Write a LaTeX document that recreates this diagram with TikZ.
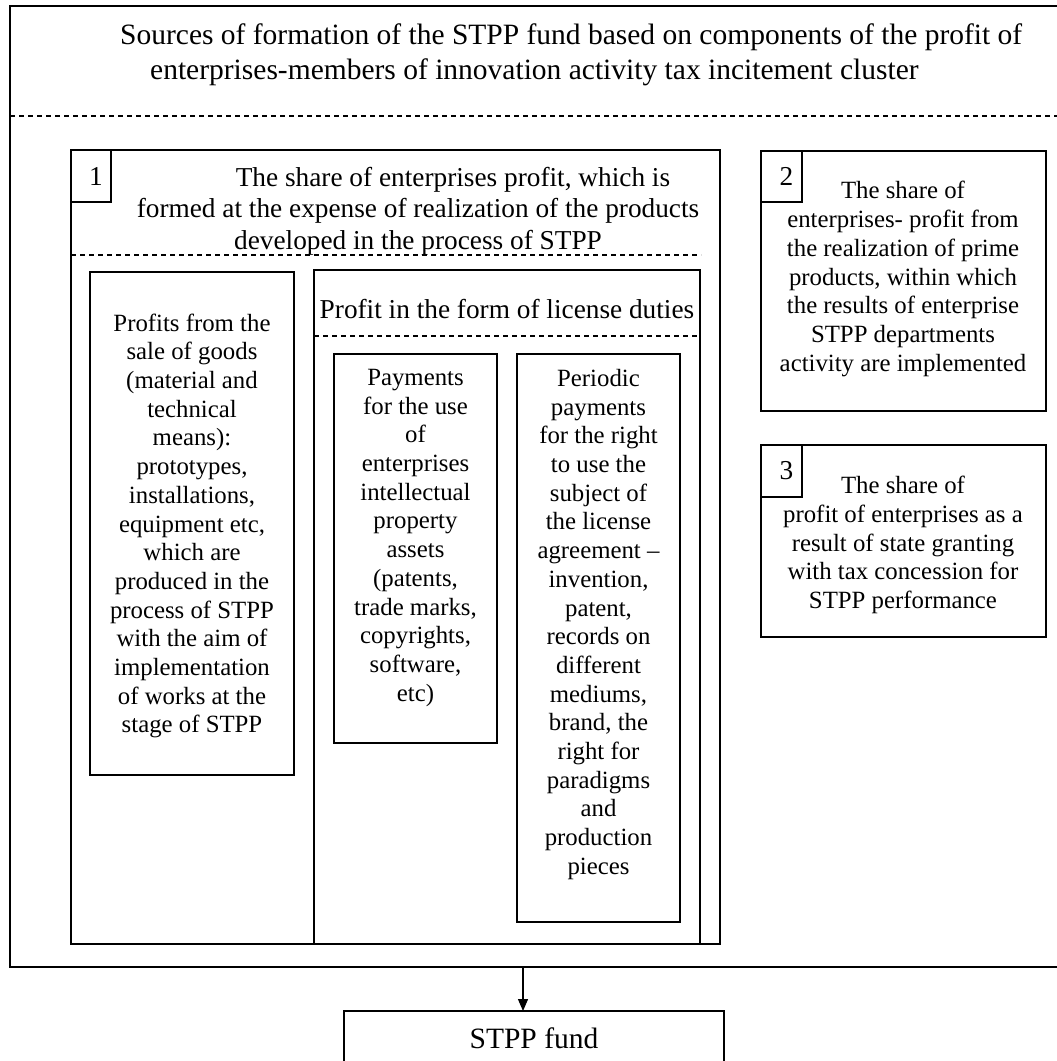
\documentclass[tikz,border=0pt]{standalone}
\usepackage{fontspec}
\setmainfont{Liberation Serif}
\usetikzlibrary{arrows.meta}
\begin{document}
\begin{tikzpicture}[x=1pt,y=-1pt,
  frame/.style={draw, line width=1.3pt, anchor=north west, inner sep=0pt, outer sep=0pt},
  dashline/.style={line width=1.3pt, dash pattern=on 5pt off 4pt},
  small/.style={align=center, inner sep=0pt, font=\fontsize{24.8pt}{28.7pt}\selectfont},
  mid/.style={align=center, inner sep=0pt, font=\fontsize{27.3pt}{31.5pt}\selectfont},
  large/.style={align=left, inner sep=0pt, font=\fontsize{29.5pt}{35pt}\selectfont},
  arrowline/.style={line width=1.3pt, -{Triangle[length=12pt,width=10pt]}}]
\useasboundingbox (0,0) rectangle (1057,1061);
\clip (0,0) rectangle (1057,1061);
% outer frame
\node[frame, minimum width=1052pt, minimum height=961pt] (outer) at (10,6) {};
\node[large, anchor=west] (title) at (120,54.5) {Sources of formation of the STPP fund based on components of the profit of\\\hspace*{30pt}enterprises-members of innovation activity tax incitement cluster};
\draw[dashline] (10,116) -- (1057,116);
% box 1
\node[frame, minimum width=649pt, minimum height=794pt] (b1) at (71,150) {};
\node[frame, mid, minimum width=40pt, minimum height=52pt] (n1) at (71,150) {\hspace*{10pt}1};
\node[mid] (t1) at (418,211) {\hspace*{70pt}The share of enterprises profit, which is\\formed at the expense of realization of the products\\developed in the process of STPP};
\draw[dashline] (71,255) -- (701,255);
% profits from sale of goods
\node[frame, minimum width=204pt, minimum height=503pt] (pg) at (90,272) {};
\node[small] (pgt) at (192,526) {Profits from the\\sale of goods\\(material and\\technical\\means):\\prototypes,\\installations,\\equipment etc,\\which are\\produced in the\\process of STPP\\with the aim of\\implementation\\of works at the\\stage of STPP};
% license duties
\node[frame, minimum width=386pt, minimum height=674pt] (lic) at (314,270) {};
\node[mid] (lict) at (507,309) {Profit in the form of license duties};
\draw[dashline] (314,336) -- (700,336);
\node[frame, minimum width=163pt, minimum height=389pt] (pay) at (334,354) {};
\node[small, anchor=north] (payt) at (415.5,369) {Payments\\for the use\\of\\enterprises\\intellectual\\property\\assets\\(patents,\\trade marks,\\copyrights,\\software,\\etc)};
\node[frame, minimum width=163pt, minimum height=568pt] (per) at (517,354) {};
\node[small, anchor=north] (pert) at (598.5,369) {Periodic\\payments\\for the right\\to use the\\subject of\\the license\\agreement --\\invention,\\patent,\\records on\\different\\mediums,\\brand, the\\right for\\paradigms\\and\\production\\pieces};
% box 2
\node[frame, minimum width=285pt, minimum height=260pt] (b2) at (761,151) {};
\node[frame, mid, minimum width=41pt, minimum height=51pt] (n2) at (761,151) {\hspace*{10pt}2};
\node[small] (t2) at (903,279) {The share of\\enterprises- profit from\\the realization of prime\\products, within which\\the results of enterprise\\STPP departments\\activity are implemented};
% box 3
\node[frame, minimum width=285pt, minimum height=192pt] (b3) at (761,445) {};
\node[frame, mid, minimum width=41pt, minimum height=52pt] (n3) at (761,445) {\hspace*{10pt}3};
\node[small] (t3) at (903,545) {The share of\\profit of enterprises as a\\result of state granting\\with tax concession for\\STPP performance};
% fund
\node[frame, minimum width=380pt, minimum height=54pt, font=\fontsize{29.5pt}{35pt}\selectfont] (fund) at (344,1011) {STPP fund};
\coordinate (src) at (523,967);
\draw[arrowline] (src) -- (src |- fund.north);
\end{tikzpicture}
\end{document}
